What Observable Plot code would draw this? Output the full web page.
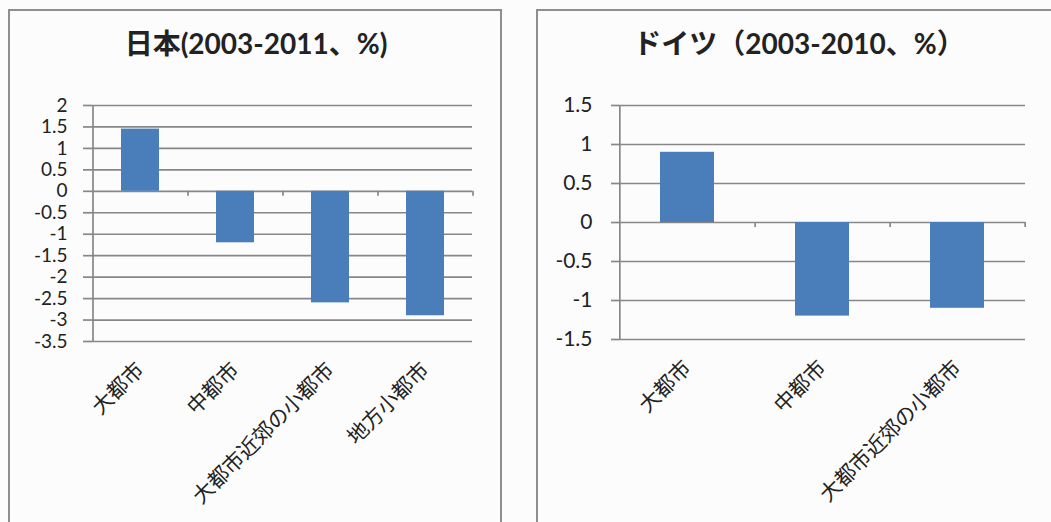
<!DOCTYPE html>
<html><head><meta charset="utf-8">
<script src="https://cdn.jsdelivr.net/npm/d3@7"></script>
<script src="https://cdn.jsdelivr.net/npm/@observablehq/plot@0.6"></script>
<style>
body{margin:0;width:1051px;height:522px;overflow:hidden;background:#fcfcfc;position:relative;font-family:Lato,"Noto Sans CJK JP",sans-serif;}
.panel{position:absolute;border:2px solid #8e8e8e;box-sizing:border-box;}
.title{position:absolute;font-weight:bold;font-size:28px;line-height:30px;color:#222;text-align:center;white-space:nowrap;}
.chart{position:absolute;}
</style></head><body>
<div class="panel" style="left:8px;top:9px;width:494px;height:530px"></div>
<div class="panel" style="left:536px;top:9px;width:530px;height:530px"></div>
<div class="title" style="left:8px;width:496px;top:28px">日本(2003-2011、%)</div>
<div class="title" style="left:544px;width:510px;top:28px">ドイツ（2003-2010、%）</div>
<div class="chart" id="jp" style="left:0px;top:90px"></div>
<div class="chart" id="de" style="left:520px;top:90px"></div>
<script>
const jpCategories = ["大都市", "中都市", "大都市近郊の小都市", "地方小都市"];
const jpValues = [1.45, -1.2, -2.6, -2.9];
const jpTicks = [2, 1.5, 1, 0.5, 0, -0.5, -1, -1.5, -2, -2.5, -3, -3.5];

const deCategories = ["大都市", "中都市", "大都市近郊の小都市"];
const deValues = [0.9, -1.2, -1.1];
const deTicks = [1.5, 1, 0.5, 0, -0.5, -1, -1.5];

const FONT = 'Lato, "Noto Sans CJK JP", sans-serif';
const GRID = "#878787";
const BAR = "#4a7ebb";

function chart(cats, vals, ticks, o) {
  const data = cats.map((c, i) => ({c, v: vals[i]}));
  const innerW = o.width - o.ml - o.mr;
  const innerH = o.height - o.mt - o.mb;
  const step = innerW / cats.length;
  const yMin = d3.min(ticks), yMax = d3.max(ticks);
  const tickData = 5 * (yMax - yMin) / innerH;
  return Plot.plot({
    width: o.width, height: o.height,
    marginLeft: o.ml, marginRight: o.mr, marginTop: o.mt, marginBottom: o.mb,
    style: {background: "transparent", fontFamily: FONT, fontSize: "21px", color: "#222", overflow: "visible"},
    x: {domain: cats, paddingInner: 0.6, paddingOuter: 0.3, label: null},
    y: {domain: [yMin, yMax], label: null},
    marks: [
      Plot.ruleY(ticks, {stroke: GRID, strokeWidth: 1.7, strokeOpacity: 1}),
      Plot.barY(data, {x: "c", y: "v", fill: BAR}),
      Plot.ruleX([cats[0]], {x: d => d, dx: -step / 2, y1: yMin, y2: yMax, stroke: GRID, strokeWidth: 1.7}),
      Plot.ruleX(cats, {x: d => d, dx: step / 2, y1: 0, y2: -tickData, stroke: GRID, strokeWidth: 1.7}),
      Plot.axisY({ticks, tickSize: o.ts, tickPadding: o.tp, stroke: GRID, strokeWidth: 1.7, strokeOpacity: 1,
        tickFormat: d => String(d), fontSize: o.yfs, label: null}),
      Plot.axisX({tickRotate: -45, tickSize: 0, tickPadding: o.xp, fontSize: 21, label: null})
    ]
  });
}

document.getElementById("jp").append(chart(jpCategories, jpValues, jpTicks,
  {width: 500, height: 432, ml: 92, mr: 28, mt: 15, mb: 181, ts: 9, tp: 16, xp: 25, yfs: 19}));
document.getElementById("de").append(chart(deCategories, deValues, deTicks,
  {width: 531, height: 432, ml: 99, mr: 26, mt: 15, mb: 183, ts: 8, tp: 19, xp: 25, yfs: 21}));
</script>
</body></html>
